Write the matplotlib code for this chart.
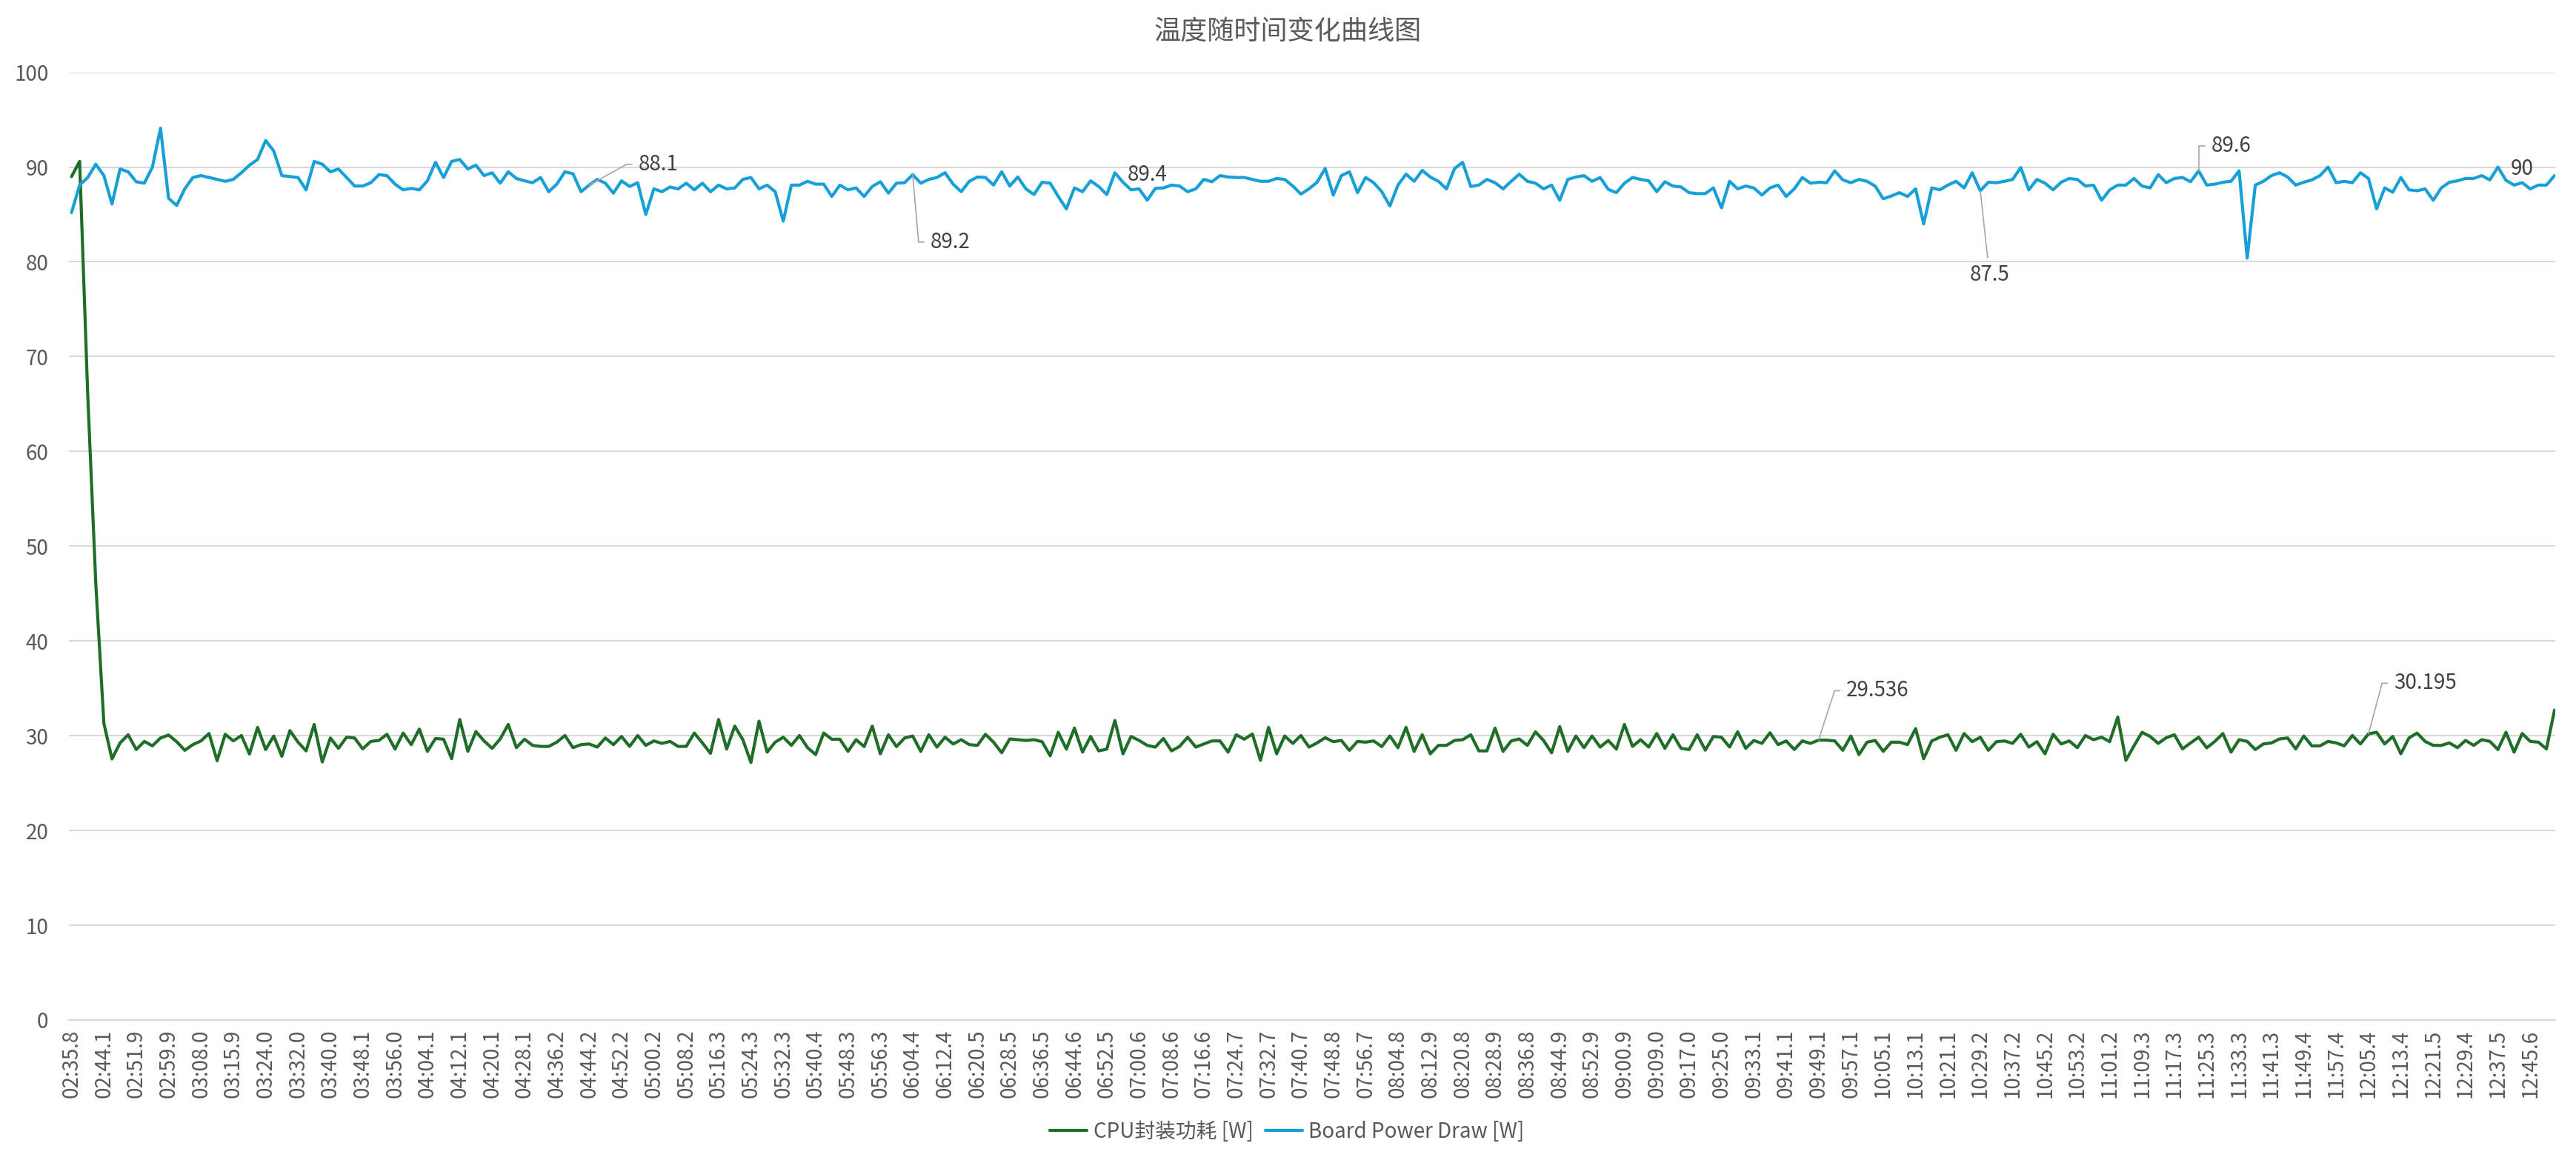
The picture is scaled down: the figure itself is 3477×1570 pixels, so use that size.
import matplotlib

matplotlib.use("Agg")
import matplotlib.pyplot as plt  # noqa: E402

plt.rcParams["font.family"] = ["Noto Sans CJK SC", "DejaVu Sans"]

TITLE = "温度随时间变化曲线图"
SERIES_NAMES = ["CPU封装功耗 [W]", "Board Power Draw [W]"]

# one tick label every 4 samples
tick_labels = [
    "02:35.8", "02:44.1", "02:51.9", "02:59.9", "03:08.0", "03:15.9", "03:24.0", "03:32.0",
    "03:40.0", "03:48.1", "03:56.0", "04:04.1", "04:12.1", "04:20.1", "04:28.1", "04:36.2",
    "04:44.2", "04:52.2", "05:00.2", "05:08.2", "05:16.3", "05:24.3", "05:32.3", "05:40.4",
    "05:48.3", "05:56.3", "06:04.4", "06:12.4", "06:20.5", "06:28.5", "06:36.5", "06:44.6",
    "06:52.5", "07:00.6", "07:08.6", "07:16.6", "07:24.7", "07:32.7", "07:40.7", "07:48.8",
    "07:56.7", "08:04.8", "08:12.9", "08:20.8", "08:28.9", "08:36.8", "08:44.9", "08:52.9",
    "09:00.9", "09:09.0", "09:17.0", "09:25.0", "09:33.1", "09:41.1", "09:49.1", "09:57.1",
    "10:05.1", "10:13.1", "10:21.1", "10:29.2", "10:37.2", "10:45.2", "10:53.2", "11:01.2",
    "11:09.3", "11:17.3", "11:25.3", "11:33.3", "11:41.3", "11:49.4", "11:57.4", "12:05.4",
    "12:13.4", "12:21.5", "12:29.4", "12:37.5", "12:45.6",
]
TICK_STEP = 4

cpu_package_power = [
    89.0, 90.6, 66.0, 46.0, 31.3, 27.55, 29.24, 30.1, 28.54, 29.4, 28.93, 29.76, 30.07, 29.37, 28.46, 29.06,
    29.45, 30.23, 27.36, 30.15, 29.45, 30.02, 28.07, 30.88, 28.54, 29.97, 27.83, 30.54, 29.32, 28.4, 31.19, 27.23,
    29.76, 28.67, 29.84, 29.76, 28.61, 29.4, 29.5, 30.15, 28.59, 30.28, 29.06, 30.7, 28.35, 29.71, 29.63, 27.57,
    31.71, 28.35, 30.44, 29.45, 28.67, 29.66, 31.19, 28.74, 29.63, 28.98, 28.87, 28.87, 29.32, 30.02, 28.74, 29.06,
    29.13, 28.8, 29.76, 29.06, 29.92, 28.87, 30.02, 28.98, 29.45, 29.19, 29.4, 28.87, 28.87, 30.28, 29.24, 28.14,
    31.71, 28.59, 31.01, 29.58, 27.18, 31.53, 28.27, 29.32, 29.84, 28.98, 30.02, 28.74, 28.01, 30.28, 29.63, 29.63,
    28.35, 29.58, 28.85, 31.01, 28.09, 30.1, 28.85, 29.76, 29.97, 28.35, 30.1, 28.8, 29.84, 29.13, 29.58, 29.06,
    28.98, 30.15, 29.32, 28.2, 29.66, 29.58, 29.5, 29.58, 29.37, 27.88, 30.36, 28.59, 30.8, 28.27, 29.92, 28.4,
    28.59, 31.61, 28.09, 29.92, 29.5, 28.98, 28.8, 29.71, 28.4, 28.87, 29.84, 28.8, 29.13, 29.45, 29.45, 28.27,
    30.1, 29.63, 30.18, 27.41, 30.88, 28.09, 29.97, 29.19, 30.02, 28.8, 29.24, 29.79, 29.37, 29.5, 28.46, 29.4,
    29.32, 29.45, 28.85, 29.97, 28.74, 30.88, 28.35, 30.1, 28.09, 28.98, 28.98, 29.5, 29.58, 30.1, 28.4, 28.4,
    30.8, 28.35, 29.45, 29.66, 28.98, 30.41, 29.5, 28.2, 30.96, 28.35, 29.97, 28.74, 29.97, 28.8, 29.5, 28.59,
    31.19, 28.87, 29.58, 28.8, 30.23, 28.67, 30.1, 28.67, 28.54, 30.1, 28.48, 29.92, 29.84, 28.8, 30.41, 28.67,
    29.5, 29.19, 30.31, 29.06, 29.45, 28.54, 29.45, 29.19, 29.536, 29.53, 29.45, 28.46, 29.97, 28.01, 29.32, 29.5,
    28.35, 29.32, 29.32, 29.06, 30.75, 27.57, 29.45, 29.84, 30.1, 28.46, 30.23, 29.37, 29.84, 28.46, 29.37, 29.45,
    29.19, 30.15, 28.8, 29.37, 28.09, 30.15, 29.13, 29.45, 28.74, 30.02, 29.58, 29.84, 29.37, 31.97, 27.41, 28.93,
    30.36, 29.92, 29.19, 29.79, 30.1, 28.61, 29.24, 29.84, 28.72, 29.4, 30.23, 28.27, 29.58, 29.4, 28.54, 29.13,
    29.24, 29.66, 29.76, 28.61, 29.97, 28.93, 28.93, 29.4, 29.24, 28.93, 30.02, 29.13, 30.195, 30.36, 29.13, 29.92,
    28.09, 29.76, 30.28, 29.4, 28.98, 28.98, 29.24, 28.74, 29.5, 28.98, 29.58, 29.4, 28.54, 30.36, 28.27, 30.23,
    29.4, 29.32, 28.61, 32.7,
]

board_power_draw = [
    85.2, 88.1, 88.9, 90.3, 89.1, 86.1, 89.8, 89.5, 88.45, 88.3, 90.0, 94.1, 86.7, 85.95, 87.7, 88.9,
    89.1, 88.9, 88.7, 88.5, 88.7, 89.4, 90.2, 90.8, 92.8, 91.7, 89.1, 89.0, 88.9, 87.6, 90.6, 90.3,
    89.5, 89.8, 88.9, 88.0, 88.0, 88.35, 89.2, 89.1, 88.2, 87.6, 87.75, 87.6, 88.55, 90.5, 88.9, 90.6,
    90.8, 89.8, 90.2, 89.1, 89.4, 88.3, 89.5, 88.8, 88.55, 88.35, 88.9, 87.4, 88.2, 89.5, 89.3, 87.4,
    88.1, 88.7, 88.3, 87.25, 88.55, 87.95, 88.35, 85.0, 87.7, 87.4, 87.9, 87.7, 88.3, 87.6, 88.3, 87.4,
    88.1, 87.7, 87.8, 88.7, 88.9, 87.7, 88.1, 87.4, 84.3, 88.1, 88.1, 88.5, 88.2, 88.2, 86.9, 88.1,
    87.6, 87.8, 86.9, 87.95, 88.45, 87.25, 88.3, 88.35, 89.2, 88.3, 88.7, 88.9, 89.4, 88.2, 87.4, 88.5,
    88.95, 88.9, 88.1, 89.5, 88.0, 88.95, 87.7, 87.1, 88.4, 88.3, 86.9, 85.6, 87.8, 87.4, 88.55, 87.95,
    87.1, 89.4, 88.4, 87.6, 87.7, 86.5, 87.75, 87.8, 88.1, 88.0, 87.4, 87.7, 88.7, 88.45, 89.1, 88.95,
    88.9, 88.9, 88.7, 88.5, 88.5, 88.8, 88.7, 88.0, 87.15, 87.7, 88.4, 89.85, 87.05, 89.1, 89.5, 87.3,
    88.9, 88.35, 87.4, 85.9, 88.1, 89.25, 88.5, 89.65, 88.95, 88.5, 87.7, 89.85, 90.5, 87.95, 88.1, 88.7,
    88.35, 87.7, 88.5, 89.25, 88.5, 88.3, 87.7, 88.1, 86.5, 88.7, 88.95, 89.1, 88.5, 88.9, 87.65, 87.3,
    88.3, 88.9, 88.7, 88.55, 87.4, 88.45, 88.0, 87.9, 87.3, 87.2, 87.2, 87.8, 85.7, 88.5, 87.7, 88.0,
    87.8, 87.05, 87.8, 88.1, 86.9, 87.7, 88.9, 88.3, 88.4, 88.35, 89.6, 88.65, 88.35, 88.7, 88.5, 88.0,
    86.65, 86.95, 87.3, 86.9, 87.7, 84.0, 87.8, 87.6, 88.1, 88.5, 87.8, 89.4, 87.5, 88.4, 88.35, 88.5,
    88.7, 89.95, 87.6, 88.7, 88.3, 87.6, 88.4, 88.8, 88.7, 88.0, 88.1, 86.5, 87.6, 88.1, 88.1, 88.8,
    88.0, 87.8, 89.2, 88.35, 88.8, 88.9, 88.45, 89.6, 88.1, 88.2, 88.4, 88.5, 89.6, 80.4, 88.1, 88.5,
    89.1, 89.4, 88.95, 88.1, 88.4, 88.65, 89.1, 90.0, 88.35, 88.5, 88.35, 89.4, 88.8, 85.6, 87.8, 87.35,
    88.9, 87.6, 87.5, 87.7, 86.5, 87.8, 88.4, 88.55, 88.8, 88.8, 89.1, 88.65, 90.0, 88.6, 88.1, 88.35,
    87.7, 88.1, 88.1, 89.1,
]

# data callouts: (series index, sample index, text)
callouts = [
    (1, 64, "88.1"),
    (1, 104, "89.2"),
    (1, 129, "89.4"),
    (1, 236, "87.5"),
    (1, 263, "89.6"),
    (1, 300, "90"),
    (0, 216, "29.536"),
    (0, 284, "30.195"),
]

COLORS = ["#1E6E27", "#17A0D8"]
# text offset (pt), leader connection style (None = no leader)
CALLOUT_STYLE = {
    "88.1": ((23.8, 10.1), "left", "angle,angleA=0,angleB=29,rad=0"),
    "89.2": ((8.6, -32.8), "left", "angle,angleA=0,angleB=-85,rad=0"),
    "89.4": ((6.2, -1.0), "left", None),
    "87.5": ((4.5, -41.0), "center", "arc3,rad=0"),
    "89.6": ((6.1, 12.0), "left", "angle,angleA=0,angleB=90,rad=0"),
    "90": ((6.0, -1.0), "left", None),
    "29.536": ((13.4, 24.0), "left", "angle,angleA=0,angleB=72,rad=0"),
    "30.195": ((12.2, 24.6), "left", "angle,angleA=0,angleB=75,rad=0"),
}


def main() -> None:
    series = [cpu_package_power, board_power_draw]
    n = len(board_power_draw)
    x = list(range(n))

    fig = plt.figure(figsize=(3477 / 200, 1570 / 200), dpi=200)
    ax = fig.add_axes([0.02683, 0.12293, 0.96515, 0.81490])

    lines = []
    for values, name, color in zip(series, SERIES_NAMES, COLORS):
        (line,) = ax.plot(x, values, color=color, linewidth=1.5, label=name,
                          solid_joinstyle="round", solid_capstyle="round")
        lines.append(line)

    ax.set_xlim(-0.3, n - 1 + 0.1)
    ax.set_ylim(0, 100)
    ax.set_yticks(range(0, 101, 10))
    ax.set_xticks(range(0, n, TICK_STEP))
    ax.set_xticklabels(tick_labels, rotation=90)

    ax.yaxis.grid(True, color="#D9D9D9", linewidth=0.75)
    ax.set_axisbelow(True)
    for side in ("top", "right", "left"):
        ax.spines[side].set_visible(False)
    ax.spines["bottom"].set_color("#D9D9D9")
    ax.spines["bottom"].set_linewidth(0.75)
    ax.tick_params(axis="y", length=0, pad=10, labelsize=10, labelcolor="#595959")
    ax.tick_params(axis="x", length=0, pad=4.5, labelsize=10, labelcolor="#595959")

    for s, i, text in callouts:
        offset, ha, style = CALLOUT_STYLE[text]
        arrow = None
        if style is not None:
            arrow = dict(arrowstyle="-", color="#A6A6A6", linewidth=0.6,
                         connectionstyle=style, shrinkA=1, shrinkB=0)
        ax.annotate(text, xy=(i, series[s][i]), xytext=offset, textcoords="offset points",
                    ha=ha, va="center", fontsize=10, color="#404040", arrowprops=arrow)

    fig.text(0.5, 0.973, TITLE, ha="center", va="center", fontsize=13, color="#595959")
    fig.legend(handles=lines, loc="center", bbox_to_anchor=(0.4997, 0.0268), ncol=2,
               frameon=False, fontsize=10, handlelength=1.8, handletextpad=0.3,
               columnspacing=0.6, labelcolor="#595959")

    fig.savefig("out.png", dpi=200)
    plt.close(fig)


if __name__ == "__main__":
    main()
